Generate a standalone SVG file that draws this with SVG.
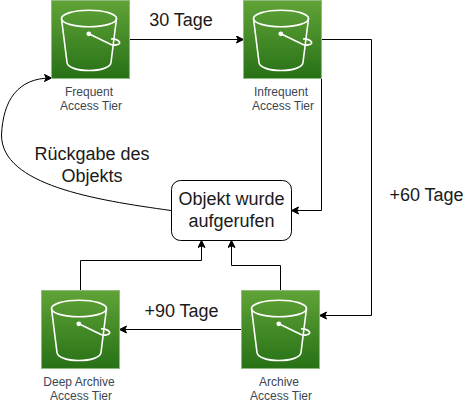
<svg xmlns="http://www.w3.org/2000/svg" width="472" height="404" viewBox="0 0 472 404">
<style>
text{font-family:"Liberation Sans",Arial,sans-serif}
.l{font-size:18px;fill:#1a1a1a;text-anchor:middle}
.s{font-size:12px;fill:#3c4654;text-anchor:middle}
.c{fill:none;stroke:#000;stroke-width:1}
.b{fill:none;stroke:#fff;stroke-width:1.6}
</style>
<defs>
<linearGradient id="g" x1="0" y1="1" x2="0" y2="0"><stop offset="0" stop-color="#277116"/><stop offset="1" stop-color="#60a337"/></linearGradient>
<marker id="a" markerWidth="9" markerHeight="9" refX="7" refY="4" orient="auto" markerUnits="userSpaceOnUse"><path d="M0.5 0.5L7.5 4L0.5 7.5L2.2 4Z" fill="#000" stroke="#000"/></marker>
<g id="bk">
<rect width="78" height="78" fill="url(#g)" stroke="#8fbb7d" stroke-width="1"/>
<ellipse class="b" cx="37.500" cy="18" rx="27.500" ry="8.300"/>
<path class="b" d="M10 18L15.500 62C16 67 26 70 37.500 70C49 70 59 67 59.500 62L65 18"/>
<circle cx="37.300" cy="33.300" r="2.400" fill="#fff"/>
<path class="b" d="M37.300 33.300L60 44.200C65 45.500 69 43.500 68 41.500C66.500 39 62 38 59.500 38.500"/>
</g>
</defs>
<g id="connectors">
<path class="c" marker-end="url(#a)" d="M130 39.500H243"/>
<path class="c" marker-end="url(#a)" d="M321.500 79V210.500H292"/>
<path class="c" marker-end="url(#a)" d="M322 39.500H371.500V315.500H320"/>
<path class="c" marker-end="url(#a)" d="M241 329.500H120"/>
<path class="c" marker-end="url(#a)" d="M80.500 290V260.500H201.500V241"/>
<path class="c" marker-end="url(#a)" d="M280.500 290V265.500H231.500V241"/>
<path class="c" marker-end="url(#a)" d="M171 210.500C95 200 1.500 185 1.500 135C3 100 18 78 51 78"/>
</g>
<g id="frequent"><use href="#bk" x="51.500" y="0.500"/><text class="s" x="89" y="96">Frequent</text><text class="s" x="91" y="110">Access Tier</text></g>
<g id="infrequent"><use href="#bk" x="243.500" y="0.500"/><text class="s" x="281" y="96">Infrequent</text><text class="s" x="283" y="110">Access Tier</text></g>
<g id="deep-archive"><use href="#bk" x="41.500" y="290.500"/><text class="s" x="79" y="386">Deep Archive</text><text class="s" x="81" y="400">Access Tier</text></g>
<g id="archive"><use href="#bk" x="241.500" y="290.500"/><text class="s" x="279" y="386">Archive</text><text class="s" x="281" y="400">Access Tier</text></g>
<g id="called"><rect x="171.500" y="180.500" width="120" height="60" rx="9" fill="#fff" stroke="#000"/><text class="l" x="231.500" y="205">Objekt wurde</text><text class="l" x="231.500" y="227">aufgerufen</text></g>
<g id="labels">
<text class="l" x="181" y="26">30 Tage</text>
<text class="l" x="92" y="160">Rückgabe des</text>
<text class="l" x="92" y="182">Objekts</text>
<text class="l" x="426.500" y="201">+60 Tage</text>
<text class="l" x="181.500" y="317">+90 Tage</text>
</g>
</svg>
